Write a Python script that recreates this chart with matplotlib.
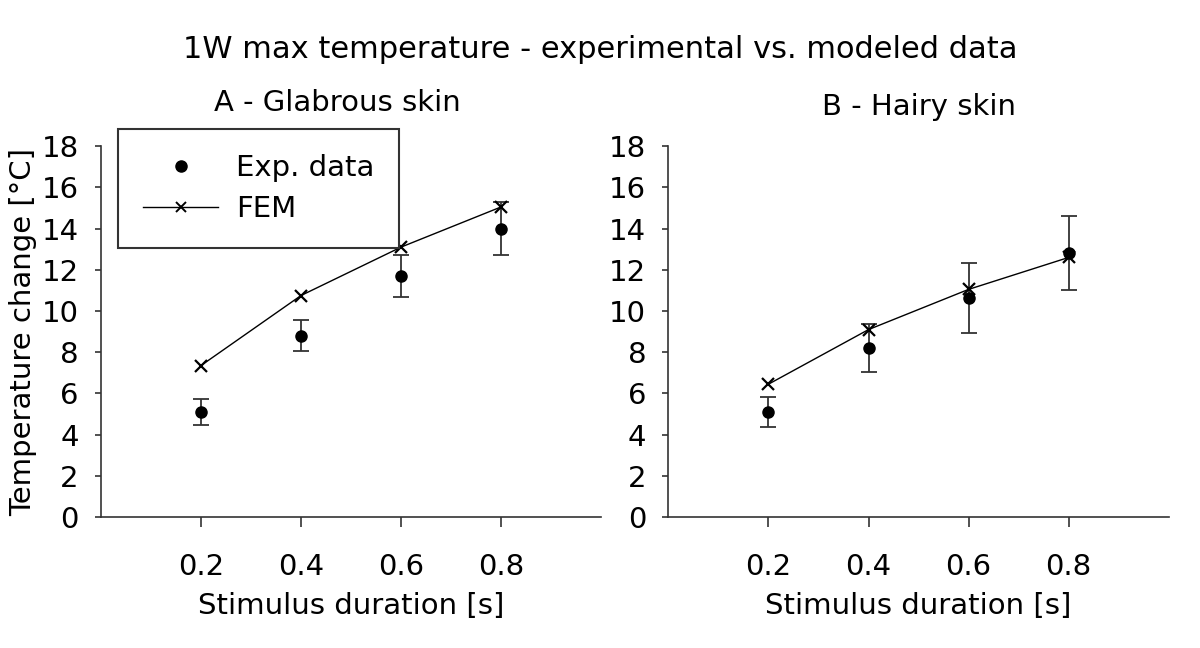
import matplotlib
matplotlib.use("Agg")
import matplotlib.pyplot as plt
from matplotlib.lines import Line2D

# stimulus durations (s)
durations = [0.2, 0.4, 0.6, 0.8]

# A - glabrous skin
glab_exp = [5.1, 8.8, 11.7, 14.0]
glab_err = [0.65, 0.75, 1.0, 1.3]
glab_fem = [7.35, 10.75, 13.1, 15.05]

# B - hairy skin
hairy_exp = [5.1, 8.2, 10.65, 12.8]
hairy_err = [0.73, 1.15, 1.7, 1.8]
hairy_fem = [6.45, 9.1, 11.05, 12.6]

xticks = [0.2, 0.4, 0.6, 0.8]
yticks = list(range(0, 19, 2))

INK = "#000000"
AXC = "#333333"
FS = 21

plt.rcParams["font.family"] = ["DejaVu Sans"]

fig = plt.figure(figsize=(12, 6.48), dpi=100)
fig.patch.set_facecolor("white")

fig.text(0.5, 0.923, "1W max temperature - experimental vs. modeled data",
         ha="center", va="center", fontsize=22)

panels = [
    (0.084, "A - Glabrous skin", 0.472, 1.115, glab_exp, glab_err, glab_fem, True),
    (0.557, "B - Hairy skin", 0.50, 1.105, hairy_exp, hairy_err, hairy_fem, False),
]

for left, title, tx, ty, exp, err, fem, first in panels:
    ax = fig.add_axes([left, 0.202, 0.417, 0.5725])
    ax.errorbar(durations, exp, yerr=err, fmt="o", color=INK, ecolor=AXC,
                elinewidth=1.3, capsize=6, capthick=1.3, markersize=8, zorder=3)
    ax.plot(durations, fem, "-x", color=INK, lw=1.0, markersize=8,
            markeredgewidth=1.6, zorder=4)

    ax.set_xlim(0, 1.0)
    ax.set_ylim(0, 18)
    ax.set_xticks(xticks)
    ax.set_xticklabels([f"{v:.1f}" for v in xticks])
    ax.set_yticks(yticks)
    ax.spines["top"].set_visible(False)
    ax.spines["right"].set_visible(False)
    for s in ("left", "bottom"):
        ax.spines[s].set_color(AXC)
        ax.spines[s].set_linewidth(1.2)
    ax.tick_params(axis="both", direction="out", color=AXC, width=1.2,
                   labelsize=FS)
    ax.tick_params(axis="x", length=7, pad=19)
    ax.tick_params(axis="y", length=4, pad=12)
    ax.set_xlabel("Stimulus duration [s]", fontsize=FS, labelpad=8)
    ax.text(tx, ty, title, transform=ax.transAxes, ha="center",
            va="center", fontsize=FS)

    if first:
        ax.set_ylabel("Temperature change [°C]", fontsize=FS, labelpad=3)
        handles = [
            Line2D([], [], ls="none", marker="o", color=INK, markersize=8),
            Line2D([], [], ls="-", marker="x", color=INK, lw=1.0,
                   markersize=7, markeredgewidth=1.4),
        ]
        leg = ax.legend(handles, ["Exp. data", "FEM"], loc="upper left",
                        bbox_to_anchor=(0.034, 1.046), fontsize=FS,
                        fancybox=False, framealpha=1, edgecolor=AXC,
                        handlelength=2.6, handletextpad=0.6,
                        labelspacing=0.45, borderpad=0.85, borderaxespad=0)
        leg.get_frame().set_linewidth(1.5)

fig.savefig("out.png", dpi=100, facecolor="white")
